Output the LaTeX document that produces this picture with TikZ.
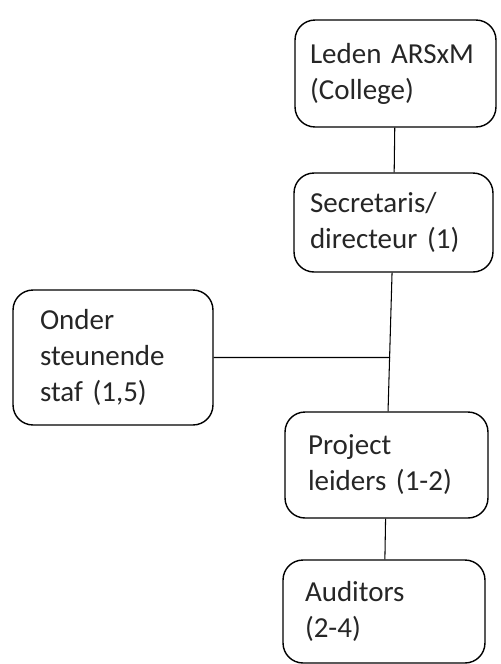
\documentclass[tikz,border=0pt]{standalone}
\usepackage{fontspec}
\setmainfont{Carlito}
\usetikzlibrary{calc}
\begin{document}
\begin{tikzpicture}[x=0.02cm, y=-0.02cm,
		orgbox/.style={draw, line width=0.8pt, rounded corners=0.4cm, align=left, inner ysep=0pt,
			font=\fontsize{16.5}{20.5}\selectfont, text=black!85},
		link/.style={line width=0.6pt}]
		\useasboundingbox (0,0) rectangle (501,664);
		\node[orgbox, minimum width=4.02cm, minimum height=2.14cm, inner xsep=0.3cm, text width=3.42cm] (leden) at (395.5,73.5) {Leden ARSxM\\(College)};
		\node[orgbox, minimum width=3.98cm, minimum height=1.98cm, inner xsep=0.32cm, text width=3.34cm] (secr) at (393.5,222.5) {Secretaris/\\directeur (1)};
		\node[orgbox, minimum width=4cm, minimum height=2.7cm, inner xsep=0.54cm, text width=2.92cm] (onder) at (113,357.5) {Onder\\steunende\\staf (1,5)};
		\node[orgbox, minimum width=4.06cm, minimum height=2.12cm, inner xsep=0.46cm, text width=3.14cm] (proj) at (386.5,465) {Project\\leiders (1-2)};
		\node[orgbox, minimum width=4.04cm, minimum height=2.06cm, inner xsep=0.44cm, text width=3.16cm] (aud) at (384,611.5) {Auditors\\(2-4)};
		
		\coordinate (junc) at ($(onder.east -| secr.south)!0.5!(onder.east -| proj.north)$);
		\draw[link] (leden) -- (secr);
		\draw[link] (secr) -- (proj);
		\draw[link] (onder.east) -- (junc);
		\draw[link] (proj) -- (aud);
	\end{tikzpicture}
\end{document}
